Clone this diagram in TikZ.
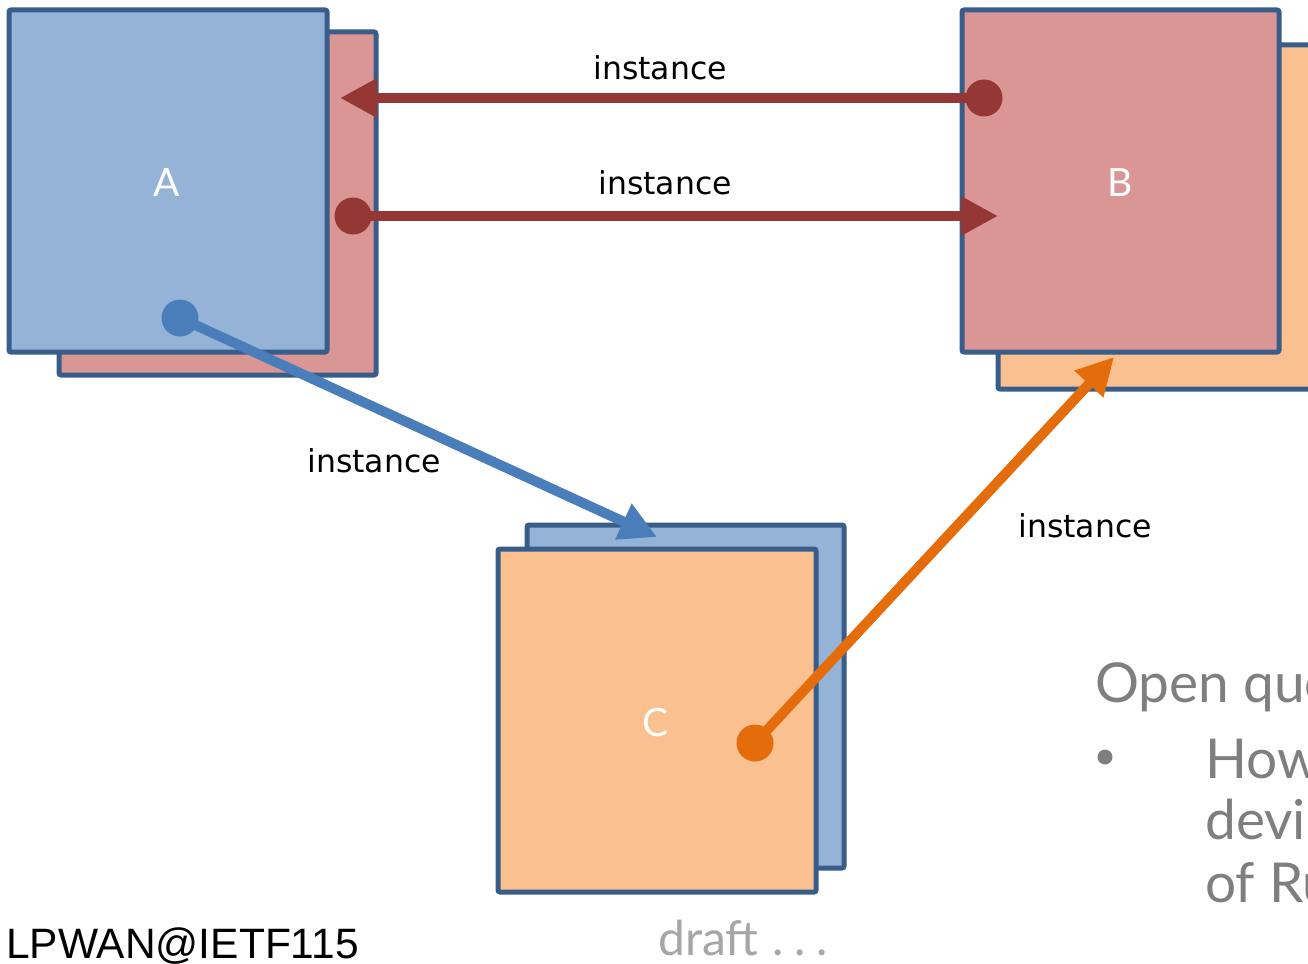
\documentclass[tikz,border=0pt]{standalone}
\usepackage{fontspec}
\setmainfont{Lato}
\newfontfamily\instfont{DejaVu Sans}
\newfontfamily\arialfont{Liberation Sans}
\usetikzlibrary{arrows.meta}
\definecolor{bordblue}{HTML}{385D8A}
\definecolor{fillblue}{HTML}{95B3D7}
\definecolor{fillpink}{HTML}{D99694}
\definecolor{fillorange}{HTML}{FAC090}
\definecolor{arrred}{HTML}{953735}
\definecolor{arrblue}{HTML}{4A7EBB}
\definecolor{arrorange}{HTML}{E46C0A}
\definecolor{graydark}{HTML}{7F7F7F}
\definecolor{graylight}{HTML}{A6A6A6}
\tikzset{
  box/.style={draw=bordblue, line width=5pt, rounded corners=2pt, anchor=north west, inner sep=0pt, outer sep=0pt},
  boxlabel/.style={text=white, font=\fontsize{39}{44}\selectfont, inner sep=0pt},
  dot/.style={circle, inner sep=0pt, minimum size=37pt, fill=#1},
  conn/.style={line width=10pt, draw=#1, -{Triangle[length=37pt,width=37pt]}},
  inst/.style={font=\instfont\fontsize{31.5}{36}\selectfont, anchor=base, inner sep=0pt},
  gtext/.style={font=\fontsize{55}{62}\selectfont, text=graydark, anchor=base west, inner sep=0pt},
}
\begin{document}
\begin{tikzpicture}[x=1pt,y=-1pt]
\useasboundingbox (0,0) rectangle (1308,963);
% boxes A
\node[box, fill=fillpink, minimum width=317pt, minimum height=343pt] (aback) at (59,32) {};
\node[box, fill=fillblue, minimum width=318pt, minimum height=342pt] (afront) at (9,10) {};
% boxes B
\node[box, fill=fillorange, minimum width=319pt, minimum height=344pt] (bback) at (998,45) {};
\node[box, fill=fillpink, minimum width=317pt, minimum height=342pt] (bfront) at (962,10) {};
% boxes C
\node[box, fill=fillblue, minimum width=317pt, minimum height=343pt] (cback) at (527,525) {};
\node[box, fill=fillorange, minimum width=318pt, minimum height=343pt] (cfront) at (498,549) {};
% labels
\node[boxlabel] (la) at (167,183) {A};
\node[boxlabel] (lb) at (1120,183) {B};
\node[boxlabel] (lc) at (656,723) {C};
% dots and tips
\node[dot=arrred] (d1) at (984,98) {};
\coordinate (t1) at (340,98);
\node[dot=arrred] (d2) at (353,216) {};
\coordinate (t2) at (998,216);
\node[dot=arrblue] (d3) at (180,318) {};
\coordinate (t3) at (657,537);
\node[dot=arrorange] (d4) at (755,743) {};
\coordinate (t4) at (1114,357);
\draw[conn=arrred] (d1.center) -- (t1);
\draw[conn=arrred] (d2.center) -- (t2);
\draw[conn=arrblue] (d3.center) -- (t3);
\draw[conn=arrorange] (d4.center) -- (t4);
% connector labels
\node[inst] (i1) at (660,80) {instance};
\node[inst] (i2) at (665,194) {instance};
\node[inst] (i3) at (374,472) {instance};
\node[inst] (i4) at (1085,537) {instance};
% footer texts
\node[font=\arialfont\fontsize{42.5}{48}\selectfont, anchor=base west, inner sep=0pt] (foot) at (6,958) {LPWAN@IETF115};
\node[font=\fontsize{48}{54}\selectfont, text=graylight, anchor=base west, inner sep=0pt] (draft) at (658,955) {draft\hspace{0.3em}.\hspace{0.22em}.\hspace{0.22em}.};
% open questions
\node[gtext] (oq) at (1095,702) {Open questions};
\node[circle, fill=graydark, inner sep=0pt, minimum size=15pt] (bul) at (1105,757) {};
\node[gtext] (q1) at (1205,778) {How};
\node[gtext] (q2) at (1205,839) {devices};
\node[gtext] (q3) at (1205,902) {of Rules};
\end{tikzpicture}
\end{document}
